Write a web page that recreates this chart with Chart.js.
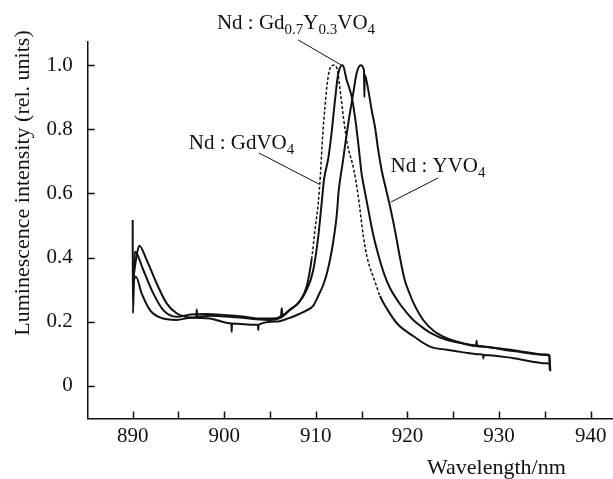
<!DOCTYPE html>
<html>
<head>
<meta charset="utf-8">
<script src="https://cdn.jsdelivr.net/npm/chart.js@4/dist/chart.umd.min.js"></script>
<style>
  html, body { margin:0; padding:0; background:#fff; }
  #wrap { width:613px; height:479px; }
</style>
</head>
<body>
<div id="wrap"><canvas id="chart" width="613" height="479"></canvas></div>
<script>
/* ── DATA ───────────────────────────────────────────────── */
// Nd:GdVO4 — wavelength (nm) / relative intensity
const gdX = [890.0, 890.03, 890.15, 890.36, 890.98, 891.89, 892.98, 894.8, 896.3, 896.95, 897.0, 897.05,
             898.5, 900, 902, 903.5, 905, 906, 907.17, 908.26, 909.0, 909.54, 909.9, 910.26, 910.5, 910.74,
             911.0, 911.24, 911.54, 911.9, 912.27, 912.56, 913.0, 913.43, 914.15, 914.63, 915.17, 915.6,
             916.45, 917.0, 918.09, 919.0, 920.63, 922.46, 924.28, 926.1, 927.92, 928.25, 928.28, 928.31,
             931.55, 935.2, 935.55, 935.6];
const gdY = [0.517, 0.226, 0.33, 0.34, 0.288, 0.236, 0.213, 0.205, 0.212, 0.215, 0.238, 0.215,
             0.218, 0.216, 0.212, 0.207, 0.205, 0.21, 0.236, 0.265, 0.31, 0.395, 0.485, 0.57, 0.66, 0.78,
             0.871, 0.943, 0.99, 1.0, 0.993, 0.943, 0.839, 0.756, 0.673, 0.59, 0.47, 0.40,
             0.325, 0.28, 0.225, 0.19, 0.155, 0.122, 0.112, 0.104, 0.098, 0.097, 0.085, 0.096,
             0.086, 0.070, 0.068, 0.045];

// Nd:Gd0.7Y0.3VO4
const mixX = [890.05, 890.25, 890.44, 891.16, 892.25, 893.34, 894.8, 896.3, 898, 900, 902, 903.5, 905.35,
              906.2, 906.27, 906.35, 907.17, 908.08, 909.0, 909.72, 910.26, 910.6, 910.9, 911.36, 911.72,
              912.09, 912.45, 912.93, 913.36, 913.91, 914.27, 914.63, 915.0, 915.25, 915.72, 916.27, 916.9,
              917.5, 918.09, 919.18, 919.91, 920.63, 921.5, 922.46, 924.28, 926.1, 927.5, 927.55, 927.6,
              927.92, 931.55, 935.2, 935.5, 935.55];
const mixY = [0.30, 0.418, 0.413, 0.361, 0.288, 0.236, 0.215, 0.222, 0.224, 0.221, 0.216, 0.21, 0.21,
              0.218, 0.242, 0.22, 0.238, 0.257, 0.299, 0.361, 0.465, 0.56, 0.645, 0.71, 0.79,
              0.891, 0.975, 1.0, 0.954, 0.902, 0.839, 0.756, 0.66, 0.62, 0.55, 0.47, 0.40,
              0.345, 0.305, 0.255, 0.228, 0.205, 0.185, 0.166, 0.143, 0.132, 0.124, 0.14, 0.123,
              0.122, 0.108, 0.096, 0.094, 0.05];

// Nd:YVO4
const yvX = [890.05, 890.4, 890.72, 891.53, 892.62, 893.71, 894.8, 896.26, 898.4, 900.6, 900.78, 900.81,
             900.84, 903.5, 903.68, 903.71, 903.74, 905.7, 907.0, 908.26, 909.0, 909.72, 910.26, 910.81,
             911.2, 911.54, 911.9, 912.27, 912.5, 912.9, 913.29, 913.6, 914.08, 914.45, 914.89, 915.25,
             915.3, 915.33, 915.72, 916.09, 916.45, 916.81, 917.2, 917.6, 918.09, 918.6, 919.18, 919.7,
             920.2, 920.63, 921.72, 922.82, 924.28, 926.1, 927.92, 931.55, 935.2, 935.5, 935.55];
const yvY = [0.33, 0.40, 0.437, 0.392, 0.319, 0.257, 0.226, 0.213, 0.21, 0.195, 0.194, 0.168,
             0.194, 0.19, 0.19, 0.174, 0.19, 0.2, 0.21, 0.225, 0.235, 0.25, 0.28, 0.315,
             0.35, 0.392, 0.45, 0.53, 0.61, 0.69, 0.77, 0.83, 0.912, 0.975, 1.0, 0.985,
             0.90, 0.97, 0.923, 0.86, 0.808, 0.735, 0.67, 0.62, 0.56, 0.49, 0.40, 0.33,
             0.29, 0.26, 0.205, 0.172, 0.148, 0.132, 0.124, 0.111, 0.097, 0.095, 0.05];

const xTicks = [890, 895, 900, 905, 910, 915, 920, 925, 930, 935, 940];
const yTicks = [0, 0.2, 0.4, 0.6, 0.8, 1.0];

/* label text, as [text, isSubscript] pieces */
const lblMix = [['Nd : Gd', 0], ['0.7', 1], ['Y', 0], ['0.3', 1], ['VO', 0], ['4', 1]];
const lblGd  = [['Nd : GdVO', 0], ['4', 1]];
const lblYv  = [['Nd : YVO', 0], ['4', 1]];
const xTitle = 'Wavelength/nm';
const yTitle = 'Luminescence intensity (rel. units)';

/* ── HELPERS ────────────────────────────────────────────── */
const SERIF = '"Liberation Serif", "Times New Roman", serif';
const INK = '#111';

const pts = (xs, ys) => xs.map((x, i) => ({ x, y: ys[i] }));

function curve(label, xs, ys, extra) {
  return Object.assign({
    label, data: pts(xs, ys),
    borderColor: INK, borderWidth: 2,
    pointRadius: 0, cubicInterpolationMode: 'monotone', fill: false,
  }, extra || {});
}

function richText(ctx, parts, cx, baseY) {
  const font = sub => (sub ? '15px ' : '21px ') + SERIF;
  let w = 0;
  parts.forEach(([t, s]) => { ctx.font = font(s); w += ctx.measureText(t).width; });
  let x = cx - w / 2;
  ctx.textAlign = 'left';
  ctx.textBaseline = 'alphabetic';
  parts.forEach(([t, s]) => {
    ctx.font = font(s);
    ctx.fillText(t, x, baseY + (s ? 5 : 0));
    x += ctx.measureText(t).width;
  });
}

/* callouts in data units: text centre + leader line */
const callouts = [
  { parts: lblMix, tx: 907.83, ty: 1.135, line: [908.06, 1.079, 912.97, 0.997] },
  { parts: lblGd,  tx: 901.88, ty: 0.760, line: [903.79, 0.726, 910.34, 0.629] },
  { parts: lblYv,  tx: 923.33, ty: 0.689, line: [923.33, 0.648, 918.2, 0.573] },
];

const figureNotes = {
  id: 'figureNotes',
  afterDraw(chart) {
    const { ctx, chartArea: a, scales: { x, y } } = chart;
    ctx.save();
    ctx.strokeStyle = INK;
    ctx.fillStyle = INK;

    // inward tick marks
    ctx.lineWidth = 1.5;
    ctx.beginPath();
    x.ticks.forEach(t => {
      const px = Math.round(x.getPixelForValue(t.value)) + 0.5;
      ctx.moveTo(px, a.bottom); ctx.lineTo(px, a.bottom - 7);
    });
    y.ticks.forEach(t => {
      const py = Math.round(y.getPixelForValue(t.value)) + 0.5;
      ctx.moveTo(a.left, py); ctx.lineTo(a.left + 7, py);
    });
    ctx.stroke();

    // callouts
    ctx.lineWidth = 1;
    callouts.forEach(c => {
      const [x1, y1, x2, y2] = c.line;
      ctx.beginPath();
      ctx.moveTo(x.getPixelForValue(x1), y.getPixelForValue(y1));
      ctx.lineTo(x.getPixelForValue(x2), y.getPixelForValue(y2));
      ctx.stroke();
      richText(ctx, c.parts, x.getPixelForValue(c.tx), y.getPixelForValue(c.ty) + 7);
    });

    // axis titles
    ctx.font = '22px ' + SERIF;
    ctx.textAlign = 'left';
    ctx.textBaseline = 'alphabetic';
    ctx.fillText(xTitle, 427, 474);

    ctx.translate(23, 183);
    ctx.rotate(-Math.PI / 2);
    ctx.textAlign = 'center';
    ctx.textBaseline = 'middle';
    ctx.fillText(yTitle, 0, 0);
    ctx.restore();
  }
};

/* ── CHART ──────────────────────────────────────────────── */
const dotted = c => c.p0.parsed.x >= 909.3 && c.p1.parsed.x <= 917.5;

new Chart(document.getElementById('chart').getContext('2d'), {
  type: 'line',
  data: {
    datasets: [
      curve('Nd:GdVO4', gdX, gdY, {
        segment: {
          borderDash: c => (dotted(c) ? [3, 2] : undefined),
          borderWidth: c => (dotted(c) ? 1.5 : undefined),
        },
      }),
      curve('Nd:Gd0.7Y0.3VO4', mixX, mixY),
      curve('Nd:YVO4', yvX, yvY),
    ],
  },
  options: {
    responsive: false, animation: false,
    layout: { padding: { top: 41.7, right: 0, bottom: 0, left: 0 } },
    plugins: { legend: { display: false }, tooltip: { enabled: false } },
    scales: {
      x: {
        type: 'linear', min: 885.09, max: 942.44,
        afterBuildTicks: s => { s.ticks = xTicks.map(v => ({ value: v })); },
        afterFit: s => { s.height = 60.5; },
        grid: { drawOnChartArea: false, drawTicks: false },
        border: { display: true, color: INK, width: 1.5 },
        ticks: {
          autoSkip: false, maxRotation: 0, padding: 5, color: INK,
          font: { family: SERIF, size: 21 },
          callback: v => (v % 10 === 0 ? String(v) : ''),
        },
      },
      y: {
        min: -0.1023, max: 1.0733,
        afterBuildTicks: s => { s.ticks = yTicks.map(v => ({ value: v })); },
        afterFit: s => { s.width = 87.7; },
        grid: { drawOnChartArea: false, drawTicks: false },
        border: { display: true, color: INK, width: 1.5 },
        ticks: {
          padding: 15, color: INK,
          font: { family: SERIF, size: 21 },
          callback: v => (v === 0 ? '0' : v.toFixed(1)),
        },
      },
    },
  },
  plugins: [figureNotes],
});
</script>
</body>
</html>
